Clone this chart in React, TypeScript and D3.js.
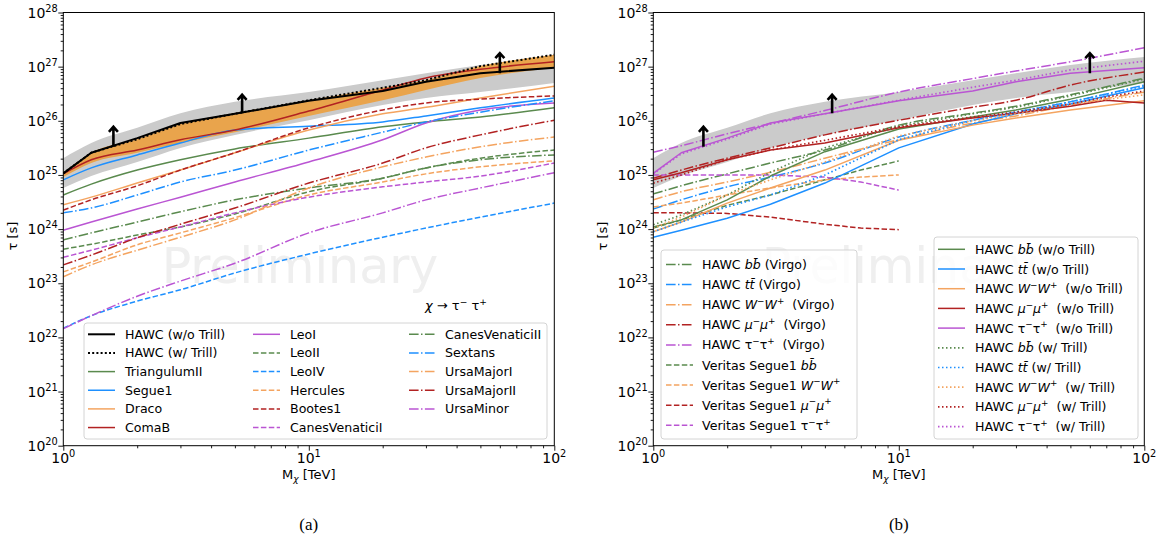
import React, { useEffect, useRef } from 'react';
import * as d3 from 'd3';

const W = 1164;
const H = 539;
const TOP = 12.5;
const BOTTOM = 445.7;

// dark-matter mass grids [TeV]
const massGrid = [1, 1.3, 2, 3, 5, 10, 20, 30, 50, 100];
const massGridMu = [1, 1.3, 2, 3, 5, 10, 20, 30, 50, 70, 100];
const veritasMass = [1, 1.3, 2, 3, 5, 7, 10];

// all curve values are log10(tau / s)
const hawcTauNoTrill = [25.03, 25.41, 25.68, 25.96, 26.13, 26.37, 26.55, 26.72, 26.88, 26.98];
const hawcTauTrill = [25.03, 25.41, 25.66, 25.94, 26.13, 26.38, 26.61, 26.75, 27.01, 27.22];
const bandGrayLow = [24.76, 24.98, 25.24, 25.5, 25.74, 26.01, 26.29, 26.42, 26.53, 26.7];
const bandGrayHigh = [25.31, 25.59, 25.87, 26.14, 26.35, 26.53, 26.75, 26.88, 27.03, 27.18];
const bandOrangeLow = [24.96, 25.22, 25.41, 25.59, 25.79, 26.09, 26.38, 26.57, 26.79, 26.98];
const bandOrangeHigh = [25.04, 25.41, 25.66, 25.94, 26.14, 26.38, 26.61, 26.75, 27.01, 27.22];

// panel (a): dwarf galaxies, tau tau channel
const triangulumII = [24.63, 24.83, 25.09, 25.28, 25.48, 25.68, 25.89, 25.98, 26.07, 26.24];
const segue1 = [24.91, 25.13, 25.37, 25.59, 25.83, 25.9, 25.98, 26.09, 26.24, 26.42];
const draco = [24.45, 24.59, 24.85, 25.09, 25.41, 25.83, 26.13, 26.25, 26.42, 26.64];
const comaB = [25.02, 25.28, 25.46, 25.65, 25.83, 26.18, 26.57, 26.79, 26.95, 27.09];
const leoI = [23.98, 24.13, 24.37, 24.59, 24.87, 25.24, 25.65, 25.96, 26.2, 26.33];
const leoII = [23.63, 23.72, 23.89, 24.04, 24.28, 24.69, 24.94, 25.13, 25.31, 25.46];
const leoIV = [22.17, 22.4, 22.67, 22.88, 23.19, 23.54, 23.85, 24.02, 24.22, 24.48];
const hercules = [23.21, 23.39, 23.71, 23.93, 24.21, 24.63, 24.87, 25.02, 25.15, 25.26];
const bootes1 = [24.35, 24.54, 24.8, 25.09, 25.41, 25.87, 26.2, 26.33, 26.4, 26.46];
const canesVenaticiI = [23.48, 23.61, 23.84, 24.04, 24.3, 24.59, 24.78, 24.87, 24.98, 25.22];
const canesVenaticiII = [23.8, 23.93, 24.13, 24.32, 24.54, 24.76, 24.94, 25.13, 25.28, 25.37];
const sextans = [24.3, 24.39, 24.63, 24.87, 25.09, 25.46, 25.79, 25.98, 26.16, 26.37];
const ursaMajorI = [23.12, 23.34, 23.61, 23.85, 24.17, 24.76, 25.15, 25.33, 25.52, 25.7];
const ursaMajorII = [23.34, 23.52, 23.84, 24.09, 24.39, 24.85, 25.22, 25.5, 25.74, 26.01];
const ursaMinor = [22.16, 22.4, 22.76, 23.04, 23.37, 23.93, 24.3, 24.54, 24.76, 25.04];

// panel (b): channels
const virgoBB = [24.65, 24.8, 25.02, 25.22, 25.46, 25.92, 26.14, 26.27, 26.48, 26.79];
const virgoTT = [24.37, 24.54, 24.78, 24.96, 25.22, 25.7, 26.01, 26.16, 26.35, 26.66];
const virgoWW = [24.54, 24.69, 24.87, 25.05, 25.31, 25.65, 25.96, 26.09, 26.29, 26.53];
const virgoMuMu = [24.94, 25.09, 25.31, 25.5, 25.74, 26.01, 26.25, 26.38, 26.66, 26.9];
const virgoTauTau = [25.42, 25.54, 25.76, 25.95, 26.19, 26.53, 26.78, 26.92, 27.09, 27.35];
const veritasBB = [24.02, 24.17, 24.44, 24.63, 24.91, 25.09, 25.26];
const veritasWW = [24.41, 24.48, 24.63, 24.76, 24.91, 24.96, 25.0];
const veritasMuMu = [24.3, 24.3, 24.29, 24.22, 24.09, 24.02, 23.99];
const veritasTauTau = [25.0, 25.0, 25.0, 25.0, 24.96, 24.87, 24.72];
const hawcBB = [24.04, 24.17, 24.54, 24.98, 25.43, 25.85, 26.07, 26.2, 26.4, 26.72];
const hawcTT = [23.85, 23.98, 24.2, 24.46, 24.85, 25.5, 25.94, 26.13, 26.31, 26.61];
const hawcWW = [23.95, 24.13, 24.48, 24.76, 25.09, 25.64, 25.92, 26.05, 26.2, 26.37];
const hawcMuMu = [24.91, 25.04, 25.28, 25.46, 25.59, 25.87, 26.05, 26.14, 26.27, 26.38, 26.33];
const hawcBBTrill = [24.08, 24.26, 24.63, 25.05, 25.5, 25.9, 26.13, 26.25, 26.46, 26.77];
const hawcTTTrill = [23.95, 24.13, 24.41, 24.63, 25.0, 25.65, 26.01, 26.16, 26.35, 26.64];
const hawcWWTrill = [24.02, 24.22, 24.63, 24.91, 25.24, 25.72, 26.0, 26.13, 26.31, 26.48];
const hawcMuMuTrill = [24.85, 25.0, 25.28, 25.46, 25.64, 25.89, 26.07, 26.16, 26.31, 26.44, 26.55];
const hawcTauTauTrill = [25.02, 25.39, 25.66, 25.94, 26.13, 26.38, 26.62, 26.75, 26.94, 27.1];

// lower-limit arrows
const arrowMass = [1.6, 5.35, 60];
const arrowBase = [25.52, 26.14, 26.88];
const arrowTip = [25.89, 26.48, 27.25];

const COLORS = {
  green: '#5a8a4e',
  blue: '#1e90ff',
  orange: '#f4a460',
  red: '#b22222',
  purple: '#ba55d3',
  black: '#000000'
};

const DASH = {
  solid: null,
  dashed: '5.5,2.4',
  dashdot: '9.6,2.4,1.5,2.4',
  dotted: '1.5,2.5',
  blackDotted: '2,2.2'
};

const FONT = 'DejaVu Sans, sans-serif';

// tiny mathtext-ish parser: $...$ is math, ^x / _x super/subscripts
const ITALIC = /[A-Za-zχμ]/;
const parseRich = (str) => {
  const segs = [];
  const push = (t, it, mode) => {
    const last = segs[segs.length - 1];
    if (last && last.it === it && last.mode === mode) last.t += t;
    else segs.push({ t, it, mode });
  };
  str.split('$').forEach((part, k) => {
    if (k % 2 === 0) {
      if (part) push(part, false, '');
      return;
    }
    let i = 0;
    while (i < part.length) {
      let c = part[i];
      let mode = '';
      if (c === '^' || c === '_') {
        mode = c === '^' ? 'sup' : 'sub';
        i++;
        if (part[i] === '{') {
          const j = part.indexOf('}', i);
          c = part.slice(i + 1, j);
          i = j + 1;
        } else {
          c = part[i];
          i++;
        }
      } else {
        i++;
      }
      if (part[i] === '\u0304') {
        c += '\u0304';
        i++;
      }
      push(c === '-' ? '\u2212' : c, ITALIC.test(c), mode);
    }
  });
  return segs;
};

const appendRich = (text, str, fs) => {
  let shift = 0;
  text.style('white-space', 'pre');
  parseRich(str).forEach((sg) => {
    const target = sg.mode === 'sup' ? -0.42 * fs : sg.mode === 'sub' ? 0.24 * fs : 0;
    const ts = text.append('tspan').text(sg.t);
    if (target !== shift) {
      ts.attr('dy', target - shift);
      shift = target;
    }
    if (sg.mode) ts.attr('font-size', 0.7 * fs);
    if (sg.it) ts.attr('font-style', 'italic');
  });
};

const s = (label, mass, values, color, dash, width = 1.5, z = 0, smooth = false) =>
  ({ label, mass, values, color, dash, width, z, smooth });

const seriesA = [
  s('HAWC (w/o Trill)', massGrid, hawcTauNoTrill, COLORS.black, DASH.solid, 2, 1),
  s('HAWC (w/ Trill)', massGrid, hawcTauTrill, COLORS.black, DASH.blackDotted, 2, 1),
  s('TriangulumII', massGrid, triangulumII, COLORS.green, DASH.solid, 1.5, 0, true),
  s('Segue1', massGrid, segue1, COLORS.blue, DASH.solid, 1.5, 0, true),
  s('Draco', massGrid, draco, COLORS.orange, DASH.solid, 1.5, 0, true),
  s('ComaB', massGrid, comaB, COLORS.red, DASH.solid, 1.5, 0, true),
  s('LeoI', massGrid, leoI, COLORS.purple, DASH.solid, 1.5, 0, true),
  s('LeoII', massGrid, leoII, COLORS.green, DASH.dashed, 1.5, 0, true),
  s('LeoIV', massGrid, leoIV, COLORS.blue, DASH.dashed, 1.5, 0, true),
  s('Hercules', massGrid, hercules, COLORS.orange, DASH.dashed, 1.5, 0, true),
  s('Bootes1', massGrid, bootes1, COLORS.red, DASH.dashed, 1.5, 0, true),
  s('CanesVenaticiI', massGrid, canesVenaticiI, COLORS.purple, DASH.dashed, 1.5, 0, true),
  s('CanesVenaticiII', massGrid, canesVenaticiII, COLORS.green, DASH.dashdot, 1.5, 0, true),
  s('Sextans', massGrid, sextans, COLORS.blue, DASH.dashdot, 1.5, 0, true),
  s('UrsaMajorI', massGrid, ursaMajorI, COLORS.orange, DASH.dashdot, 1.5, 0, true),
  s('UrsaMajorII', massGrid, ursaMajorII, COLORS.red, DASH.dashdot, 1.5, 0, true),
  s('UrsaMinor', massGrid, ursaMinor, COLORS.purple, DASH.dashdot, 1.5, 0, true)
];

const seriesBLeft = [
  s('HAWC $bb\u0304$ (Virgo)', massGrid, virgoBB, COLORS.green, DASH.dashdot, 1.5, 0, true),
  s('HAWC $tt\u0304$ (Virgo)', massGrid, virgoTT, COLORS.blue, DASH.dashdot, 1.5, 0, true),
  s('HAWC $W^-W^+$  (Virgo)', massGrid, virgoWW, COLORS.orange, DASH.dashdot, 1.5, 0, true),
  s('HAWC $μ^-μ^+$  (Virgo)', massGrid, virgoMuMu, COLORS.red, DASH.dashdot, 1.5, 0, true),
  s('HAWC $τ^-τ^+$  (Virgo)', massGrid, virgoTauTau, COLORS.purple, DASH.dashdot, 1.5, 0, true),
  s('Veritas Segue1 $bb\u0304$', veritasMass, veritasBB, COLORS.green, DASH.dashed),
  s('Veritas Segue1 $W^-W^+$', veritasMass, veritasWW, COLORS.orange, DASH.dashed),
  s('Veritas Segue1 $μ^-μ^+$', veritasMass, veritasMuMu, COLORS.red, DASH.dashed),
  s('Veritas Segue1 $τ^-τ^+$', veritasMass, veritasTauTau, COLORS.purple, DASH.dashed)
];

const seriesBRight = [
  s('HAWC $bb\u0304$ (w/o Trill)', massGrid, hawcBB, COLORS.green, DASH.solid),
  s('HAWC $tt\u0304$ (w/o Trill)', massGrid, hawcTT, COLORS.blue, DASH.solid),
  s('HAWC $W^-W^+$  (w/o Trill)', massGrid, hawcWW, COLORS.orange, DASH.solid),
  s('HAWC $μ^-μ^+$  (w/o Trill)', massGridMu, hawcMuMu, COLORS.red, DASH.solid),
  s('HAWC $τ^-τ^+$  (w/o Trill)', massGrid, hawcTauNoTrill, COLORS.purple, DASH.solid),
  s('HAWC $bb\u0304$ (w/ Trill)', massGrid, hawcBBTrill, COLORS.green, DASH.dotted, 1.7),
  s('HAWC $tt\u0304$ (w/ Trill)', massGrid, hawcTTTrill, COLORS.blue, DASH.dotted, 1.7),
  s('HAWC $W^-W^+$  (w/ Trill)', massGrid, hawcWWTrill, COLORS.orange, DASH.dotted, 1.7),
  s('HAWC $μ^-μ^+$  (w/ Trill)', massGridMu, hawcMuMuTrill, COLORS.red, DASH.dotted, 1.7),
  s('HAWC $τ^-τ^+$  (w/ Trill)', massGrid, hawcTauTauTrill, COLORS.purple, DASH.dotted, 1.7)
];

const panelA = {
  id: 'a',
  left: 63.3,
  right: 554.3,
  watermarkX: 300,
  caption: '(a)',
  bands: [
    { mass: massGrid, lo: bandGrayLow, hi: bandGrayHigh, fill: '#cbcbcb' },
    { mass: massGrid, lo: bandOrangeLow, hi: bandOrangeHigh, fill: '#e9a44c' }
  ],
  series: seriesA,
  legends: [
    {
      box: [84, 323, 463, 116],
      rowY: 334.3,
      rowStep: 18.65,
      cols: [
        { hx: 88, tx: 125, items: seriesA.slice(0, 6) },
        { hx: 253, tx: 290, items: seriesA.slice(6, 12) },
        { hx: 409, tx: 445, items: seriesA.slice(12) }
      ]
    }
  ],
  annotation: { x: 425, y: 310, text: '$χ$ → $τ^-$ $τ^+$' }
};

const panelB = {
  id: 'b',
  left: 653.3,
  right: 1144.3,
  watermarkX: 900,
  caption: '(b)',
  bands: [{ mass: massGrid, lo: bandGrayLow, hi: bandGrayHigh, fill: '#cbcbcb' }],
  series: [...seriesBLeft, ...seriesBRight],
  legends: [
    {
      box: [661, 250, 196, 189],
      rowY: 264.5,
      rowStep: 20.1,
      cols: [{ hx: 666, tx: 702, items: seriesBLeft }]
    },
    {
      box: [934, 237, 204, 202],
      rowY: 249.3,
      rowStep: 19.7,
      cols: [{ hx: 938, tx: 975, items: seriesBRight }]
    }
  ],
  annotation: null
};

const drawPanel = (svg, p) => {
  const x = d3.scaleLog().domain([1, 100]).range([p.left, p.right]);
  const y = d3.scaleLog().domain([1e20, 1e28]).range([BOTTOM, TOP]);
  const root = svg.append('g').attr('class', `panel-${p.id}`);

  const clipId = `clip-${p.id}`;
  root.append('clipPath').attr('id', clipId)
    .append('rect')
    .attr('x', p.left).attr('y', TOP)
    .attr('width', p.right - p.left).attr('height', BOTTOM - TOP);

  // watermark
  root.append('text')
    .attr('x', p.watermarkX).attr('y', 283)
    .attr('text-anchor', 'middle')
    .attr('font-family', FONT)
    .attr('font-size', 49)
    .attr('fill', '#efefef')
    .text('Preliminary');

  const plot = root.append('g').attr('clip-path', `url(#${clipId})`);

  // bands
  p.bands.forEach((b) => {
    const area = d3.area()
      .x((d) => x(d[0]))
      .y0((d) => y(10 ** d[1]))
      .y1((d) => y(10 ** d[2]))
      .curve(d3.curveMonotoneX);
    plot.append('path')
      .datum(b.mass.map((m, i) => [m, b.lo[i], b.hi[i]]))
      .attr('d', area)
      .attr('fill', b.fill)
      .attr('stroke', 'none');
  });

  // curves
  [...p.series].sort((a, b) => a.z - b.z).forEach((sr) => {
    const line = d3.line()
      .x((d) => x(d[0]))
      .y((d) => y(10 ** d[1]))
      .curve(sr.smooth ? d3.curveMonotoneX : d3.curveLinear);
    plot.append('path')
      .datum(sr.mass.map((m, i) => [m, sr.values[i]]))
      .attr('d', line)
      .attr('fill', 'none')
      .attr('stroke', sr.color)
      .attr('stroke-width', sr.width)
      .attr('stroke-dasharray', sr.dash)
      .attr('stroke-linejoin', 'round');
  });

  // lower-limit arrows
  arrowMass.forEach((m, i) => {
    const ax = x(m);
    const y0 = y(10 ** arrowBase[i]);
    const y1 = y(10 ** arrowTip[i]);
    root.append('path')
      .attr('d', `M${ax},${y0}L${ax},${y1 + 1}M${ax - 4.5},${y1 + 5}L${ax},${y1}L${ax + 4.5},${y1 + 5}`)
      .attr('fill', 'none')
      .attr('stroke', '#000')
      .attr('stroke-width', 2.6);
  });

  // axes
  const majorX = [1, 10, 100];
  const minorX = [2, 3, 4, 5, 6, 7, 8, 9, 20, 30, 40, 50, 60, 70, 80, 90];
  const majorY = d3.range(20, 29).map((e) => 10 ** e);
  const minorY = [];
  d3.range(20, 28).forEach((e) => [2, 3, 4, 5, 6, 7, 8, 9].forEach((k) => minorY.push(k * 10 ** e)));

  const styleAxis = (g) => {
    g.select('.domain').remove();
    g.selectAll('line').attr('stroke', '#000').attr('stroke-width', 0.9);
    g.selectAll('text').remove();
  };
  root.append('g').attr('transform', `translate(0,${BOTTOM})`)
    .call(d3.axisBottom(x).tickValues(majorX).tickSize(5).tickFormat(() => ''))
    .call(styleAxis);
  root.append('g').attr('transform', `translate(0,${BOTTOM})`)
    .call(d3.axisBottom(x).tickValues(minorX).tickSize(2.6).tickFormat(() => ''))
    .call(styleAxis);
  root.append('g').attr('transform', `translate(${p.left},0)`)
    .call(d3.axisLeft(y).tickValues(majorY).tickSize(5).tickFormat(() => ''))
    .call(styleAxis);
  root.append('g').attr('transform', `translate(${p.left},0)`)
    .call(d3.axisLeft(y).tickValues(minorY).tickSize(2.6).tickFormat(() => ''))
    .call(styleAxis);

  majorX.forEach((v) => {
    const t = root.append('text')
      .attr('x', x(v)).attr('y', 462.7)
      .attr('text-anchor', 'middle')
      .attr('font-family', FONT).attr('font-size', 14)
      .attr('fill', '#000');
    appendRich(t, `10$^{${Math.round(Math.log10(v))}}$`, 14);
  });
  majorY.forEach((v) => {
    const t = root.append('text')
      .attr('x', p.left - 5.5).attr('y', y(v) + 5)
      .attr('text-anchor', 'end')
      .attr('font-family', FONT).attr('font-size', 14)
      .attr('fill', '#000');
    appendRich(t, `10$^{${Math.round(Math.log10(v))}}$`, 14);
  });

  // frame
  root.append('rect')
    .attr('x', p.left).attr('y', TOP)
    .attr('width', p.right - p.left).attr('height', BOTTOM - TOP)
    .attr('fill', 'none').attr('stroke', '#000').attr('stroke-width', 1);

  // axis labels
  const cx = (p.left + p.right) / 2;
  const xl = root.append('text')
    .attr('x', cx).attr('y', 479)
    .attr('text-anchor', 'middle')
    .attr('font-family', FONT).attr('font-size', 13);
  appendRich(xl, 'M$_χ$ [TeV]', 13);
  const yl = root.append('text')
    .attr('transform', `translate(${p.left - 46},236) rotate(-90)`)
    .attr('text-anchor', 'middle')
    .attr('font-family', FONT).attr('font-size', 13);
  appendRich(yl, '$τ$ [s]', 13);

  // legends
  const fs = 12.6;
  p.legends.forEach((lg) => {
    const [bx, by, bw, bh] = lg.box;
    root.append('rect')
      .attr('x', bx).attr('y', by).attr('width', bw).attr('height', bh)
      .attr('rx', 3)
      .attr('fill', '#fff').attr('fill-opacity', 0.8)
      .attr('stroke', '#d4d4d4').attr('stroke-width', 1);
    lg.cols.forEach((col) => {
      col.items.forEach((it, r) => {
        const ry = lg.rowY + r * lg.rowStep;
        root.append('line')
          .attr('x1', col.hx).attr('x2', col.hx + 27)
          .attr('y1', ry).attr('y2', ry)
          .attr('stroke', it.color)
          .attr('stroke-width', it.width)
          .attr('stroke-dasharray', it.dash);
        const t = root.append('text')
          .attr('x', col.tx).attr('y', ry + 4.5)
          .attr('font-family', FONT).attr('font-size', fs)
          .attr('fill', '#000');
        appendRich(t, it.label, fs);
      });
    });
  });

  if (p.annotation) {
    const t = root.append('text')
      .attr('x', p.annotation.x).attr('y', p.annotation.y)
      .attr('font-family', FONT).attr('font-size', 13);
    appendRich(t, p.annotation.text, 13);
  }

  // caption
  root.append('text')
    .attr('x', cx).attr('y', 530)
    .attr('text-anchor', 'middle')
    .attr('font-family', 'Liberation Serif, serif')
    .attr('font-size', 17)
    .text(p.caption);
};

const App = () => {
  const ref = useRef(null);

  useEffect(() => {
    if (!ref.current) return;
    const svg = d3.select(ref.current);
    svg.selectAll('*').remove();
    drawPanel(svg, panelA);
    drawPanel(svg, panelB);
  }, []);

  return (
    <svg
      ref={ref}
      width={W}
      height={H}
      style={{ position: 'absolute', left: 0, top: 0, background: '#fff' }}
    />
  );
};

export default App;
